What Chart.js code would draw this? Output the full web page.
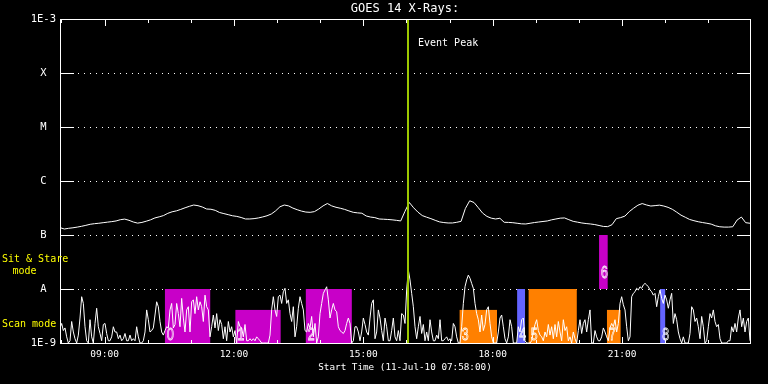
<!DOCTYPE html>
<html><head><meta charset="utf-8">
<script src="https://cdn.jsdelivr.net/npm/chart.js@4.4.1/dist/chart.umd.min.js"></script>
<style>html,body{margin:0;padding:0;background:#000;}canvas{display:block;}</style>
</head><body>
<canvas id="c" width="768" height="384"></canvas>
<script>
const titleText = 'GOES 14 X-Rays:';
const xAxisTitle = 'Start Time (11-Jul-10 07:58:00)';
const startMin = 7 * 60 + 58;          // 07:58
const spanMin = 16 * 60;               // 16 hours shown
const hourTicks = [8,9,10,11,12,13,14,15,16,17,18,19,20,21,22,23];
const labeledHours = [9,12,15,18,21];
const yTickValues = [1e-9,1e-8,1e-7,1e-6,1e-5,1e-4,1e-3];
const yTickLabels = ['1E-9','A','B','C','M','X','1E-3'];

// 1-8 A channel, every 6 min, units of 1e-7 W/m^2
const longStepMin = 6;
const longFlux = [
1.37,1.29,1.33,1.36,1.40,1.45,1.51,1.58,1.62,1.65,
1.69,1.73,1.77,1.82,1.92,1.97,1.87,1.74,1.66,1.71,
1.80,1.91,2.07,2.17,2.29,2.52,2.69,2.80,2.98,3.19,
3.40,3.59,3.49,3.30,3.03,3.00,2.86,2.61,2.49,2.38,
2.27,2.21,2.11,1.98,1.98,2.01,2.07,2.16,2.27,2.45,
2.80,3.33,3.59,3.46,3.15,2.94,2.77,2.66,2.63,2.71,
3.03,3.46,3.83,3.46,3.26,3.13,2.98,2.79,2.63,2.57,
2.53,2.25,2.15,2.10,1.98,1.96,1.94,1.91,1.87,1.82,
2.75,4.00,3.19,2.65,2.29,2.14,2.01,1.87,1.75,1.70,
1.67,1.67,1.72,1.79,3.10,4.30,4.00,3.20,2.54,2.21,
2.05,1.98,2.04,1.72,1.71,1.69,1.65,1.61,1.60,1.65,
1.70,1.74,1.78,1.82,1.91,1.98,2.05,2.07,1.92,1.79,
1.73,1.67,1.63,1.60,1.56,1.50,1.44,1.43,1.55,2.01,
2.10,2.24,2.71,3.13,3.56,3.82,3.60,3.44,3.50,3.57,
3.44,3.25,2.99,2.65,2.33,2.13,1.94,1.84,1.76,1.70,
1.65,1.59,1.48,1.42,1.40,1.40,1.42,1.89,2.15,1.69,1.65
];

// 0.5-4 A channel, units of 1e-9 W/m^2, 415 samples over the 16 h window
const shortStepMin = 960 / 414;
const shortFlux = [
1.9,2.3,1.7,1.9,1.3,1,1.1,2.5,1.6,1.2,
1,1.4,2.9,7.2,5.4,2,1.1,1,2.7,1.3,
1,2.3,4.4,2,1.5,1.1,2.2,2.3,1.5,1.1,
1.1,1.3,2,1.6,1.6,1.2,1.4,1.1,1.2,1.5,
1.1,1.1,1.4,1.1,1.2,1.1,2,1.3,1,1,
1.1,1.6,4.1,2.7,1.6,1.7,1.9,3.3,5.8,4.7,
2.5,1.6,1.4,1.7,2,1.9,4.1,5.4,1.9,2.2,
5.4,3.5,2,6.7,2.9,1.6,4.1,4.7,1.6,5.8,
6.3,3.5,7.2,4.1,5.8,4.7,2.5,7.7,4.7,4.1,
1.3,2,3.3,1.9,3.5,1.7,2.7,2.2,1.2,2,
1.1,2.5,1.6,2,1.3,1.7,
1,2.5,2,1.9,1.3,2.2,1.1,1.1,1.2,1.1,
1.2,1.1,1.3,1.2,1.1,1,1,1,1,1,
1.4,4.1,7.2,4.1,3.1,7.2,7.7,5.4,8.9,10.3,
5.4,6.3,3.5,2.5,4.7,1.3,2,4.4,7.2,5.4,
4.1,1.7,1.6,2.3,1.9,3.1,1.3,2.3,1,1.3,
3.5,5.4,8.3,9.6,11,6.3,2.9,4.1,5.4,4.1,
3.8,2,1.7,1.6,1.5,1.7,2.3,2.9,2.3,1,
1.1,2,2,1.6,1.1,1.6,2.9,2.2,1.6,1.4,
2.9,5.4,6.3,1.2,1.6,4.1,2.9,1.7,1.1,2.9,
2,1.1,1.1,1.7,2.9,1.3,1.1,1.7,1.1,3.5,
3.3,2.3,
9.6,22.5,14.7,8.3,4.7,2,1.2,2,3.1,1.5,
2.2,1.1,1.6,1.1,2.7,1.6,1.1,1.1,1.4,1.2,
2.7,1.1,1.1,1.2,1.3,1.1,1.2,1.1,2.3,2,
1.3,1,1,2,5.4,11,14.7,18.1,15.8,12.7,
10.3,5.4,3.5,2.7,1.6,3.3,1.7,2.2,4.1,4.7,
2.3,1.3,1,1,1,1.6,2.9,3.3,2,1.2,
1,1.3,2.7,2,1,1,1,2,1.6,2.7,
2.9,1.1,1,1,1,1.1,1.6,2.2,2.7,1.7,
1.4,1.3,1.1,1.6,1.3,2.2,1.4,2,1.2,2.2,
1.3,2.5,1.6,1.1,2.7,1.7,2,1.1,1.3,1,
1.6,1.2,
1,1.7,2.7,1.5,2.3,2.7,1.6,2.7,4.1,1,
1,1.7,1.3,1.1,1.1,1.3,1.9,1.6,1.3,1.1,
1.9,2.3,2,2.7,1.6,2.3,5.4,7.2,5.1,4.1,
2,1.1,1.3,7.2,8.3,8.9,10.3,9.6,11,10.3,
11.9,12.7,11.9,11,9.6,8.9,7.7,8.3,4.7,7.2,
9.6,6.7,5.4,7.7,6.3,4.4,6.3,8.3,2.3,3.5,
2.7,1.6,1.2,1,1.3,1,1,1,1.5,4.7,
4.1,2.5,2.9,2,1.2,3.1,2,1,1.1,2,
3.5,2.9,4.1,2.5,2,2.2,1.2,1,1,1,
1,1.1,1.1,2,1.6,2.3,1.6,2.9,4.1,2,
2.9,1.6,2.5,2.9,1.1
];

const eventPeakTime = '16:02';
const eventLabel = 'Event Peak';

// observing-mode intervals
const boxLabels = ['0','1','2','3','4','5','6','7','8'];
const boxStart  = ['10:24','12:02','13:40','17:14','18:34','18:50','20:28','20:39','21:53'];
const boxEnd    = ['11:27','13:05','14:44','18:06','18:45','19:57','20:40','20:58','22:00'];
const boxLow    = [7e-10,7e-10,7e-10,7e-10,7e-10,7e-10,1e-8,7e-10,7e-10];
const boxHigh   = [1e-8,4.1e-9,1e-8,4.1e-9,1e-8,1e-8,1e-7,4.1e-9,1e-8];
const boxKind   = ['m','m','m','o','b','o','m','o','b'];
const kindColor = {m:'#c800c8', o:'#ff8000', b:'#6464ff'};

const MONO = "'DejaVu Sans Mono', monospace";
const toMin = s => { const [h,m] = s.split(':').map(Number); return h*60+m; };
const pad2 = n => String(n).padStart(2,'0');

const longPts = longFlux.map((v,k) => ({x: startMin + k*longStepMin, y: v*1e-7}));
const shortPts = shortFlux.map((v,i) => ({x: startMin + i*shortStepMin, y: v*1e-9}));

const overlay = {
  id: 'overlay',
  beforeDatasetsDraw(chart) {
    const {ctx, chartArea: a, scales: {x, y}} = chart;
    ctx.save();
    ctx.fillStyle = '#fff';
    yTickValues.slice(1, -1).forEach(v => {
      const py = Math.round(y.getPixelForValue(v));
      for (let px = a.left + 18; px < a.right - 15; px += 6) ctx.fillRect(px, py, 1, 1);
    });
    ctx.beginPath();
    ctx.rect(a.left, a.top, a.right - a.left, a.bottom - a.top);
    ctx.clip();
    boxLabels.forEach((lab, i) => {
      const x0 = x.getPixelForValue(toMin(boxStart[i]));
      const x1 = x.getPixelForValue(toMin(boxEnd[i]));
      const yt = y.getPixelForValue(boxHigh[i]);
      const yb = y.getPixelForValue(boxLow[i]);
      ctx.fillStyle = kindColor[boxKind[i]];
      ctx.fillRect(x0, yt, x1 - x0, yb - yt);
    });
    ctx.restore();
  },
  afterDatasetsDraw(chart) {
    const {ctx, chartArea: a, scales: {x, y}} = chart;
    ctx.save();
    // box labels
    ctx.strokeStyle = '#fff';
    ctx.lineWidth = 0.8;
    ctx.font = "17px 'Liberation Sans', sans-serif";
    ctx.textBaseline = 'alphabetic';
    boxLabels.forEach((lab, i) => {
      const x0 = x.getPixelForValue(toMin(boxStart[i]));
      const yb = y.getPixelForValue(boxLow[i]);
      ctx.save();
      ctx.translate(x0 + 2, yb - 11);
      ctx.scale(0.72, 1);
      ctx.strokeText(lab, 0, 0);
      ctx.restore();
    });
    // event line
    const ex = x.getPixelForValue(toMin(eventPeakTime));
    ctx.fillStyle = '#9cc800';
    ctx.fillRect(Math.round(ex) - 1, a.top + 1, 2, a.bottom - a.top - 1);
    ctx.fillStyle = '#fff';
    ctx.font = '10px ' + MONO;
    ctx.textBaseline = 'middle';
    ctx.textAlign = 'left';
    ctx.fillText(eventLabel, Math.round(ex) + 10, 43);
    // frame
    const L = Math.round(a.left), R = Math.round(a.right), T = Math.round(a.top), B = Math.round(a.bottom);
    ctx.fillRect(L, T, R - L + 1, 1);
    ctx.fillRect(L, B, R - L + 1, 1);
    ctx.fillRect(L, T, 1, B - T + 1);
    ctx.fillRect(R, T, 1, B - T + 1);
    // y ticks
    yTickValues.forEach(v => {
      const py = Math.round(y.getPixelForValue(v));
      ctx.fillRect(L, py, 14, 1);
      ctx.fillRect(R - 13, py, 14, 1);
    });
    // x ticks
    hourTicks.forEach(h => {
      const px = Math.round(x.getPixelForValue(h * 60));
      const len = (h % 3 === 0) ? 7 : 4;
      ctx.fillRect(px, T, 1, len);
      ctx.fillRect(px, B - len + 1, 1, len);
    });
    // mode labels
    ctx.fillStyle = '#ffff00';
    ctx.font = '10px ' + MONO;
    ctx.textAlign = 'left';
    ctx.fillText('Sit & Stare', 2, 259);
    ctx.textAlign = 'center';
    ctx.fillText('mode', 24.5, 271);
    ctx.textAlign = 'left';
    ctx.fillText('Scan mode', 2, 324);
    ctx.restore();
  }
};

new Chart(document.getElementById('c'), {
  type: 'line',
  data: { datasets: [
    { data: longPts, borderColor: '#fff', borderWidth: 1, pointRadius: 0, tension: 0, fill: false },
    { data: shortPts, borderColor: '#fff', borderWidth: 1, pointRadius: 0, tension: 0, fill: false }
  ]},
  options: {
    responsive: false, animation: false, devicePixelRatio: 1,
    events: [],
    layout: { padding: { left: 0, right: 18, top: 0, bottom: 0 } },
    plugins: {
      legend: { display: false },
      tooltip: { enabled: false },
      title: { display: true, text: titleText, color: '#fff', fullSize: false,
        font: { family: MONO, size: 12, lineHeight: 1, weight: 'normal' }, padding: { top: 3, bottom: 4 } }
    },
    scales: {
      x: {
        type: 'linear', min: startMin, max: startMin + spanMin,
        grid: { display: false, drawTicks: false }, border: { display: false },
        afterBuildTicks: s => { s.ticks = hourTicks.map(h => ({ value: h * 60 })); },
        afterFit: s => { s.height = 41; },
        ticks: { autoSkip: false, maxRotation: 0, padding: 6, color: '#fff',
          font: { family: MONO, size: 9.5 },
          callback: v => labeledHours.includes(v / 60) ? pad2(v / 60) + ':00' : '' },
        title: { display: true, text: xAxisTitle, color: '#fff',
          font: { family: MONO, size: 9.3 }, padding: { top: 0, bottom: 11 } }
      },
      y: {
        type: 'logarithmic', min: 1e-9, max: 1e-3,
        grid: { display: false, drawTicks: false }, border: { display: false },
        afterBuildTicks: s => { s.ticks = yTickValues.map(v => ({ value: v })); },
        afterFit: s => { s.width = 60; },
        ticks: { crossAlign: 'center', padding: 4, color: '#fff',
          font: { family: MONO, size: 10.5 },
          callback: v => yTickLabels[yTickValues.findIndex(t => Math.abs(Math.log10(t) - Math.log10(v)) < 1e-6)] }
      }
    }
  },
  plugins: [overlay]
});
</script>
</body></html>
